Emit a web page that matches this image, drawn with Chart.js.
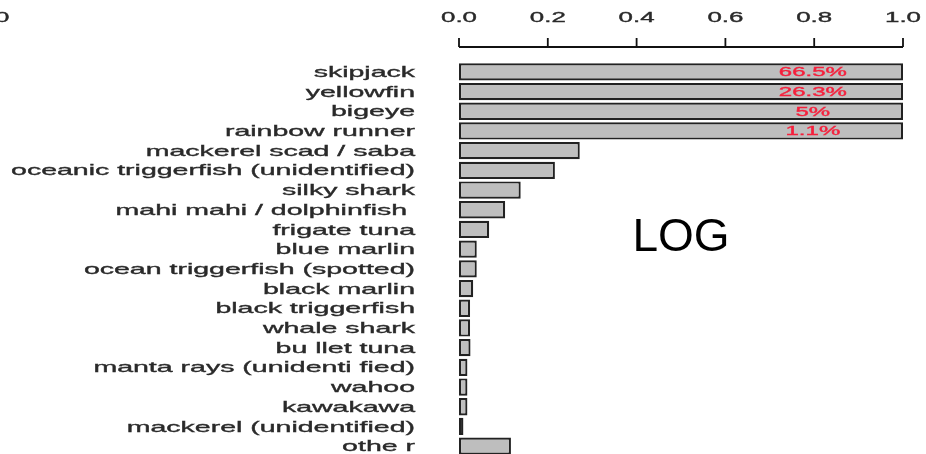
<!DOCTYPE html>
<html>
<head>
<meta charset="utf-8">
<script src="https://cdn.jsdelivr.net/npm/chart.js@4.4.1/dist/chart.umd.min.js"></script>
<style>
  html, body { margin: 0; padding: 0; background: #fff; overflow: hidden; }
  canvas { display: block; }
</style>
</head>
<body>
<canvas id="catchChart" width="926" height="460"></canvas>
<script>
// species, top to bottom
const species = [
  "skipjack", "yellowfin", "bigeye", "rainbow runner",
  "mackerel scad / saba", "oceanic triggerfish (unidentified)", "silky shark",
  "mahi mahi / dolphinfish ", "frigate tuna", "blue marlin",
  "ocean triggerfish (spotted)", "black marlin", "black triggerfish",
  "whale shark", "bu llet tuna", "manta rays (unidenti fied)", "wahoo",
  "kawakawa", "mackerel (unidentified)", "othe r"
];
// relative catch (bar length)
const share = [
  1.0, 1.0, 1.0, 1.0,
  0.272, 0.216, 0.139, 0.104, 0.068, 0.040,
  0.040, 0.032, 0.025, 0.025, 0.026, 0.019, 0.019,
  0.019, 0.010, 0.117
];
// red percentage labels on the top bars
const pctLabels = ["66.5%", "26.3%", "5%", "1.1%"];
const xTicks = [0, 0.2, 0.4, 0.6, 0.8, 1.0];
const xTickLabels = ["0.0", "0.2", "0.4", "0.6", "0.8", "1.0"];

const FONT = "'Liberation Sans', Arial, Helvetica, sans-serif";

// R output looks horizontally stretched, so squeeze/stretch the glyphs
function wideText(ctx, txt, x, y, align, sx) {
  ctx.save();
  ctx.translate(x, y);
  ctx.scale(sx, 1);
  ctx.textAlign = align;
  ctx.lineWidth = 0.35;
  ctx.strokeStyle = ctx.fillStyle;
  ctx.fillText(txt, 0, 0);
  ctx.strokeText(txt, 0, 0);
  ctx.restore();
}

const annotate = {
  id: "annotate",
  afterDraw(chart) {
    const ctx = chart.ctx;
    const xs = chart.scales.x;
    const ys = chart.scales.y;
    ctx.save();

    // top axis, offset from the bars like R does
    const axisY = 47;
    ctx.strokeStyle = "#111";
    ctx.lineWidth = 1.8;
    ctx.beginPath();
    ctx.moveTo(xs.getPixelForValue(0), axisY);
    ctx.lineTo(xs.getPixelForValue(1), axisY);
    xTicks.forEach(v => {
      const px = xs.getPixelForValue(v);
      ctx.moveTo(px, axisY);
      ctx.lineTo(px, 38);
    });
    ctx.stroke();

    ctx.filter = "blur(0.3px)";
    ctx.fillStyle = "#2a2a2a";
    ctx.textBaseline = "middle";
    ctx.font = "14px " + FONT;
    xTicks.forEach((v, i) => {
      wideText(ctx, xTickLabels[i], xs.getPixelForValue(v), 18, "center", 1.85);
    });
    // stray tick label from the neighbouring panel
    wideText(ctx, "0", -5, 18, "left", 1.85);

    // species labels
    ctx.font = "15px " + FONT;
    species.forEach((s, i) => {
      wideText(ctx, s, 415, ys.getPixelForValue(i) + 1, "right", 1.9);
    });

    // percentages
    ctx.fillStyle = "#f5203c";
    ctx.font = "12px " + FONT;
    pctLabels.forEach((p, i) => {
      wideText(ctx, p, xs.getPixelForValue(0.797), ys.getPixelForValue(i) + 1, "center", 2.0);
    });
    ctx.filter = "none";

    ctx.fillStyle = "#000";
    ctx.font = "46px " + FONT;
    ctx.textAlign = "center";
    ctx.fillText("LOG", 681, 238);
    ctx.restore();
  }
};

new Chart(document.getElementById("catchChart"), {
  type: "bar",
  data: {
    labels: species,
    datasets: [{
      data: share,
      backgroundColor: "#bebebe",
      borderColor: "#222",
      borderWidth: 2.2,
      borderSkipped: false,
      categoryPercentage: 1.0,
      barPercentage: 0.88
    }]
  },
  options: {
    indexAxis: "y",
    responsive: false,
    animation: false,
    layout: { padding: { left: 459, right: 23, top: 62, bottom: 4 } },
    plugins: { legend: { display: false }, tooltip: { enabled: false } },
    scales: {
      x: { display: false, min: 0, max: 1 },
      y: { display: false }
    }
  },
  plugins: [annotate]
});
</script>
</body>
</html>
